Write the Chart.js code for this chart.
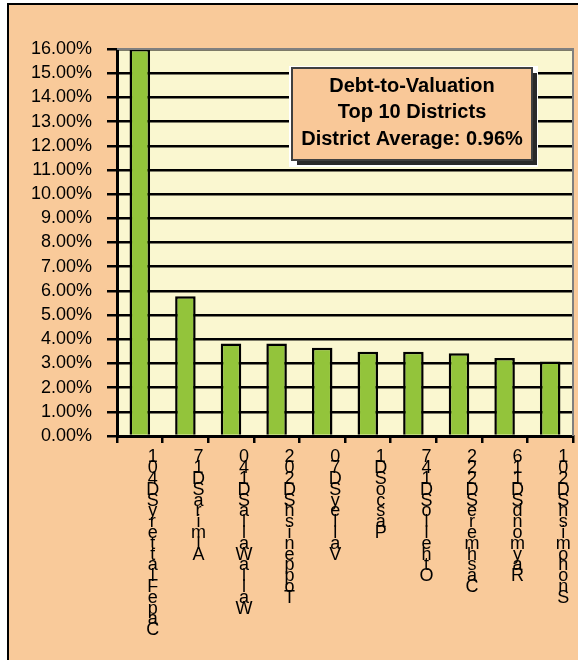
<!DOCTYPE html>
<html>
<head>
<meta charset="utf-8">
<script src="https://cdn.jsdelivr.net/npm/chart.js@4"></script>
<style>
  html, body { margin: 0; padding: 0; background: #ffffff; overflow: hidden; width: 578px; height: 660px; }
  #frame { position: absolute; left: 7px; top: 3px; width: 569px; height: 655px; overflow: hidden;
           border-left: 2px solid #000; border-top: 2px solid #000; background: #F9CA9A; }
  #c { position: absolute; left: 0; top: 0; }
</style>
</head>
<body>
<div id="frame"><canvas id="c" width="569" height="655"></canvas></div>
<script>
// ---- data ----
const districts = [
  "Cape Flattery SD 401",
  "Almira SD 17",
  "Walla Walla SD 140",
  "Toppenish SD 202",
  "Valley SD 70",
  "Pasco SD 1",
  "Othello SD 147",
  "Cashmere SD 222",
  "Raymond SD 116",
  "Snohomish SD 201"
];
const debtToValuation = [16.0, 5.78, 3.82, 3.82, 3.65, 3.48, 3.48, 3.42, 3.22, 3.08];
const yTickMin = 0;
const yTickMax = 16;
const yTickStep = 1;
const boxLines = ["Debt-to-Valuation", "Top 10 Districts", "District Average: 0.96%"];

const FONT = "'Liberation Sans', Arial, Helvetica, sans-serif";

const plotDecor = {
  id: 'plotDecor',
  beforeDraw(chart) {
    const { ctx, chartArea: a } = chart;
    ctx.save();
    ctx.fillStyle = '#FAF7D0';
    ctx.fillRect(a.left, a.top, a.right - a.left, a.bottom - a.top);
    ctx.restore();
  },
  afterDatasetsDraw(chart) {
    const { ctx, chartArea: a } = chart;
    ctx.save();
    // gray outline top/right
    ctx.strokeStyle = '#808080';
    ctx.lineWidth = 2;
    ctx.beginPath();
    ctx.moveTo(a.left, a.top);
    ctx.lineTo(a.right, a.top);
    ctx.lineTo(a.right, a.bottom);
    ctx.stroke();
    // annotation box
    const bx = a.left + 175, by = a.top + 19, bw = 240, bh = 92;
    ctx.fillStyle = '#ffffff';
    ctx.fillRect(bx - 3, by - 2, bw + 9, bh + 9);
    ctx.fillStyle = '#2a2a2a';
    ctx.fillRect(bx + 5, by + 5, bw, bh);
    ctx.fillStyle = '#F9C898';
    ctx.fillRect(bx, by, bw, bh);
    ctx.strokeStyle = '#404040';
    ctx.lineWidth = 2;
    ctx.strokeRect(bx, by, bw, bh);
    ctx.fillStyle = '#000';
    ctx.font = 'bold 20px ' + FONT;
    ctx.textAlign = 'center';
    ctx.textBaseline = 'middle';
    const cx = bx + bw / 2;
    boxLines.forEach((t, i) => {
      const w = ctx.measureText(t).width;
      ctx.fillText(t, cx, by + 18 + i * 26.5, Math.min(w, 224));
    });
    ctx.restore();
  }
};

new Chart(document.getElementById('c'), {
  type: 'bar',
  data: {
    labels: districts,
    datasets: [{
      data: debtToValuation,
      backgroundColor: '#93C43B',
      borderColor: '#000000',
      borderWidth: 2.5,
      barPercentage: 0.45,
      categoryPercentage: 1.0
    }]
  },
  options: {
    responsive: false,
    animation: false,
    events: [],
    layout: { padding: { top: 44, right: 5, left: 0, bottom: 0 } },
    plugins: { legend: { display: false }, tooltip: { enabled: false }, title: { display: false } },
    scales: {
      x: {
        grid: { drawOnChartArea: false, drawTicks: true, tickLength: 7, color: '#000', lineWidth: 2.5, offset: true },
        border: { color: '#000', width: 3 },
        ticks: {
          autoSkip: false, maxRotation: 0, minRotation: 0, padding: 9, labelOffset: 13,
          color: '#000',
          font: { family: FONT, size: 18, lineHeight: 0.6 },
          callback(v) { return this.getLabelForValue(v).replace(/\s+/g, '').split('').reverse(); }
        },
        afterFit(s) { s.height = 224; }
      },
      y: {
        min: yTickMin, max: yTickMax,
        grid: { color: '#000', lineWidth: 2.5, tickLength: 10 },
        border: { color: '#000', width: 3 },
        ticks: {
          stepSize: yTickStep, autoSkip: false, padding: 15, color: '#000',
          font: { family: FONT, size: 18 },
          callback(v) { return v.toFixed(2) + '%'; }
        },
        afterFit(s) { s.width = 108; }
      }
    }
  },
  plugins: [plotDecor]
});
</script>
</body>
</html>
